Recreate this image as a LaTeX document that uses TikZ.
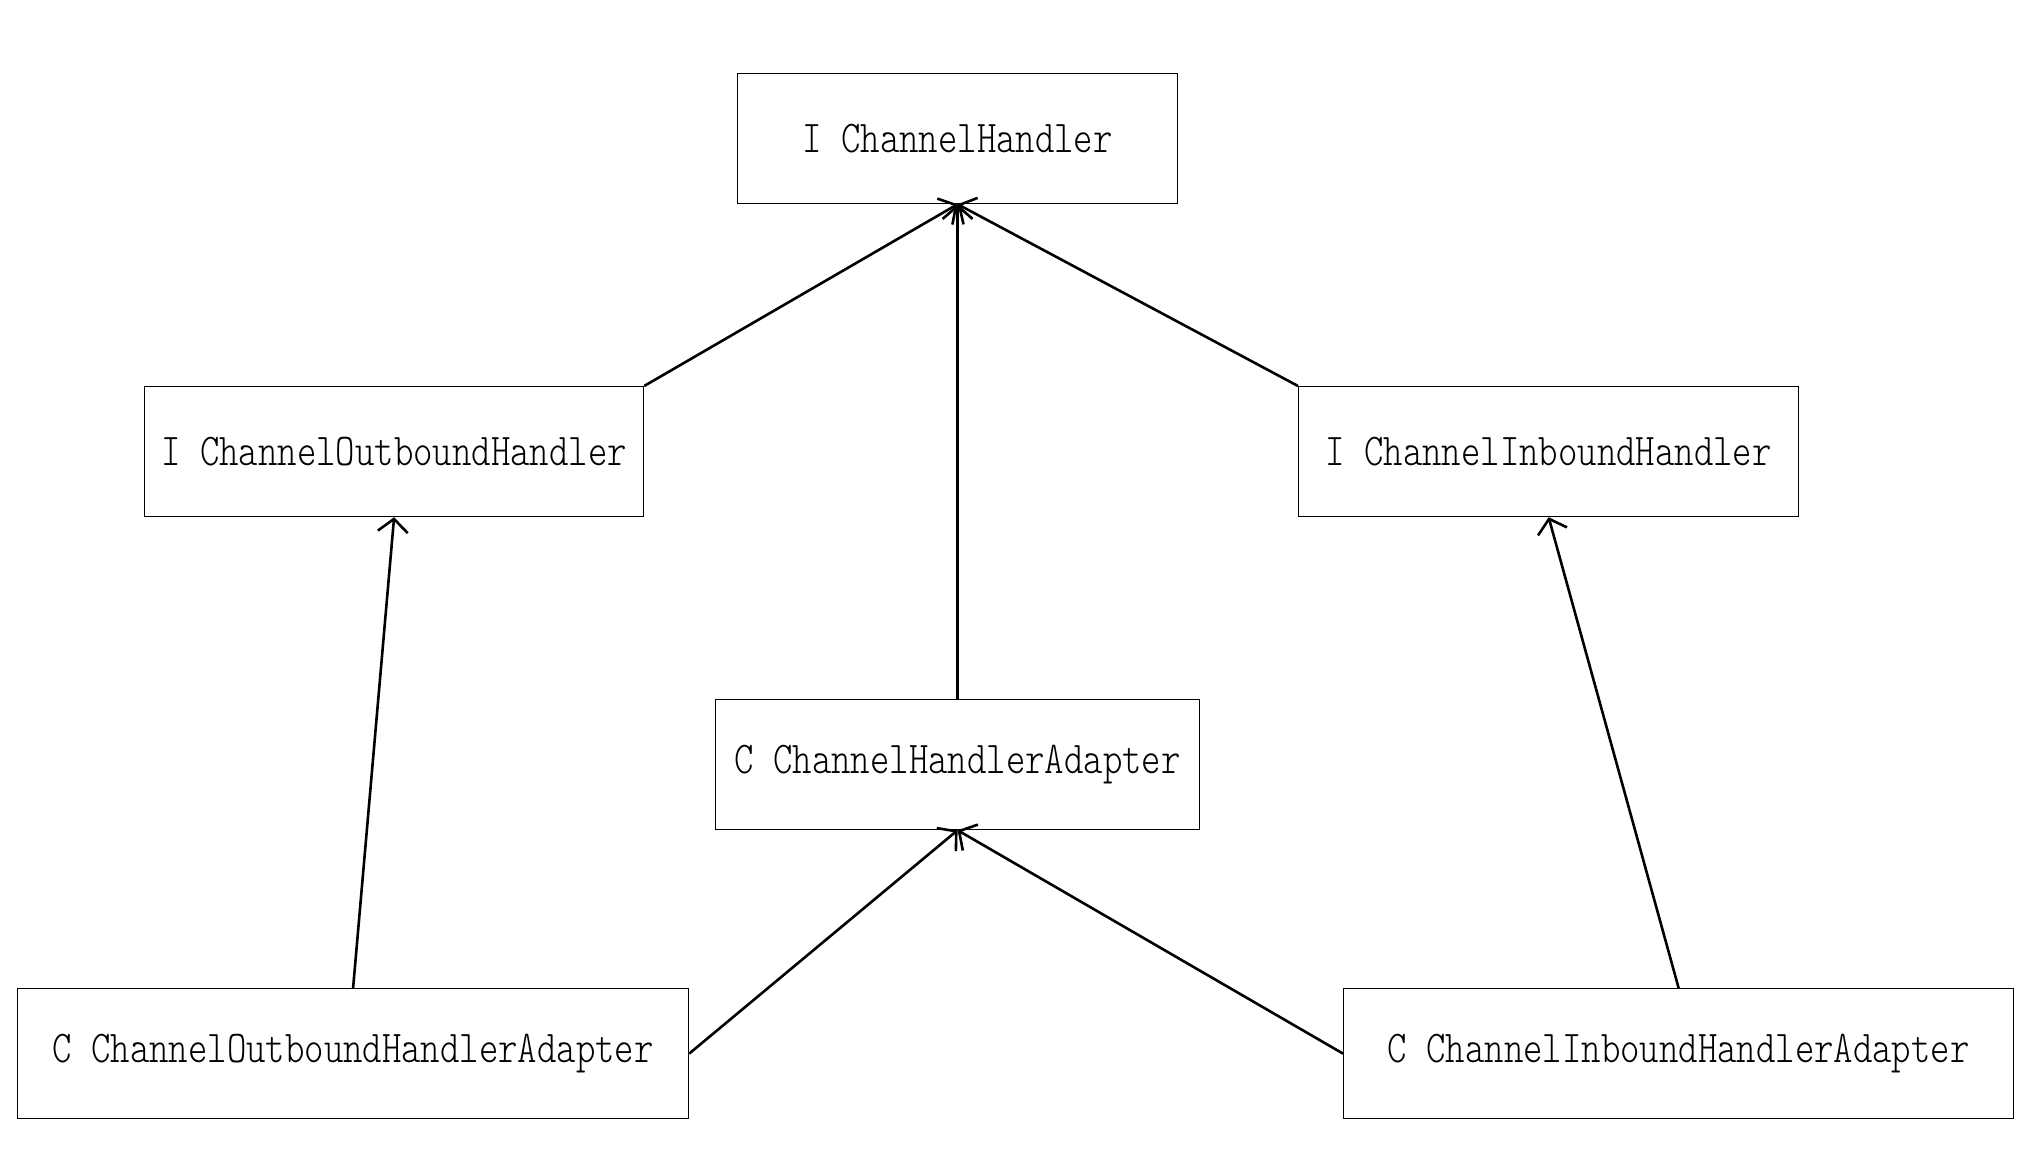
\documentclass[tikz,border=0pt]{standalone}
\usepackage{fontspec}
\newfontfamily\boxfont[FakeStretch=0.812]{Latin Modern Mono Light}
\usetikzlibrary{arrows.meta}
\begin{document}
\begin{tikzpicture}[x=1pt,y=-1pt,
  cls/.style={draw=black,line width=1.2pt,inner sep=0pt,anchor=north west,
    font=\boxfont\fontsize{45.5}{48}\selectfont,align=center},
  inh/.style={line width=2.6pt,-{Straight Barb[length=13pt,width=30pt,line width=2.6pt]}}]
\useasboundingbox[fill=white] (0,0) rectangle (2036,1175);
\node[cls,minimum width=440pt,minimum height=130pt] (ch) at (737,73) {I ChannelHandler};
\node[cls,minimum width=499pt,minimum height=130pt] (och) at (144,386) {I ChannelOutboundHandler};
\node[cls,minimum width=500pt,minimum height=130pt] (ich) at (1298,386) {I ChannelInboundHandler};
\node[cls,minimum width=484pt,minimum height=130pt] (cha) at (715,699) {C ChannelHandlerAdapter};
\node[cls,minimum width=671pt,minimum height=130pt] (ocha) at (17,988) {C ChannelOutboundHandlerAdapter};
\node[cls,minimum width=670pt,minimum height=130pt] (icha) at (1343,988) {C ChannelInboundHandlerAdapter};
\draw[inh] (och.north east) -- (ch.south);
\draw[inh] (cha.north) -- (ch.south);
\draw[inh] (ich.north west) -- (ch.south);
\draw[inh] (ocha.north) -- (och.south);
\draw[inh] (icha.north) -- (ich.south);
\draw[inh] (ocha.east) -- (cha.south);
\draw[inh] (icha.west) -- (cha.south);
\end{tikzpicture}
\end{document}
